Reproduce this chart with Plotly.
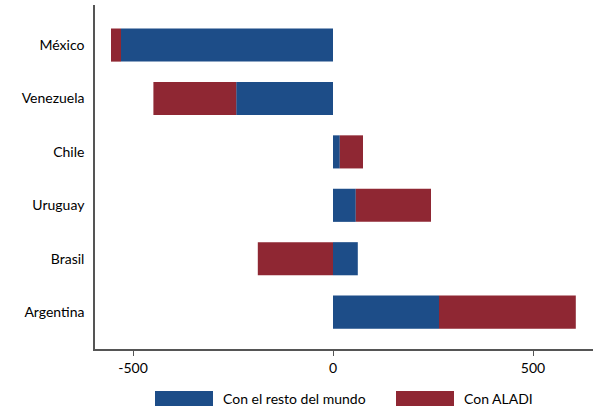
import plotly.graph_objects as go

# datos
paises = ["Argentina", "Brasil", "Uruguay", "Chile", "Venezuela", "México"]
resto_mundo = [265, 62, 57, 17, -242, -530]
aladi = [342, -188, 188, 58, -207, -25]

tick_vals = [-500, 0, 500]
tick_text = ["-500", "0", "500"]

AZUL = "#1d4d88"
ROJO = "#8f2733"

fig = go.Figure()

fig.add_trace(go.Bar(
    y=paises, x=resto_mundo, orientation="h",
    name="Con el resto del mundo",
    marker=dict(color=AZUL, line=dict(width=0)),
))
fig.add_trace(go.Bar(
    y=paises, x=aladi, orientation="h",
    name="Con ALADI",
    marker=dict(color=ROJO, line=dict(width=0)),
))

fig.update_layout(
    barmode="relative",
    bargap=0.38,
    width=593, height=412,
    margin=dict(l=95, r=0, t=5, b=63),
    paper_bgcolor="white",
    plot_bgcolor="white",
    showlegend=False,
    font=dict(family="Lato, Open Sans, sans-serif", size=14, color="#000000"),
    xaxis=dict(
        range=[-595, 650],
        tickvals=tick_vals, ticktext=tick_text,
        showgrid=False, zeroline=False,
        showline=True, linecolor="#555555", linewidth=1.5,
        ticks="outside", ticklen=5, tickcolor="#555555",
    ),
    yaxis=dict(
        range=[-0.69, 5.75],
        showgrid=False, zeroline=False,
        showline=True, linecolor="#555555", linewidth=1.5,
        ticks="", ticklabelstandoff=6,
    ),
)

# leyenda dibujada a mano (muestras anchas como en el original)
leyenda = [("Con el resto del mundo", AZUL, 155), ("Con ALADI", ROJO, 396)]
for texto, color, x0 in leyenda:
    fig.add_shape(
        type="rect", xref="paper", yref="paper",
        x0=(x0 - 95) / 498, x1=(x0 + 58 - 95) / 498,
        y0=-(391 - 349 + 15) / 344, y1=-(391 - 349) / 344,
        fillcolor=color, line=dict(width=0),
    )
    fig.add_annotation(
        text=texto, xref="paper", yref="paper",
        x=(x0 + 66 - 95) / 498, y=-(398.5 - 349) / 344,
        xanchor="left", yanchor="middle", showarrow=False,
    )

fig.write_html(
    "out.html",
    config={"displayModeBar": False},
    post_script="document.body.style.margin='0px';",
)
